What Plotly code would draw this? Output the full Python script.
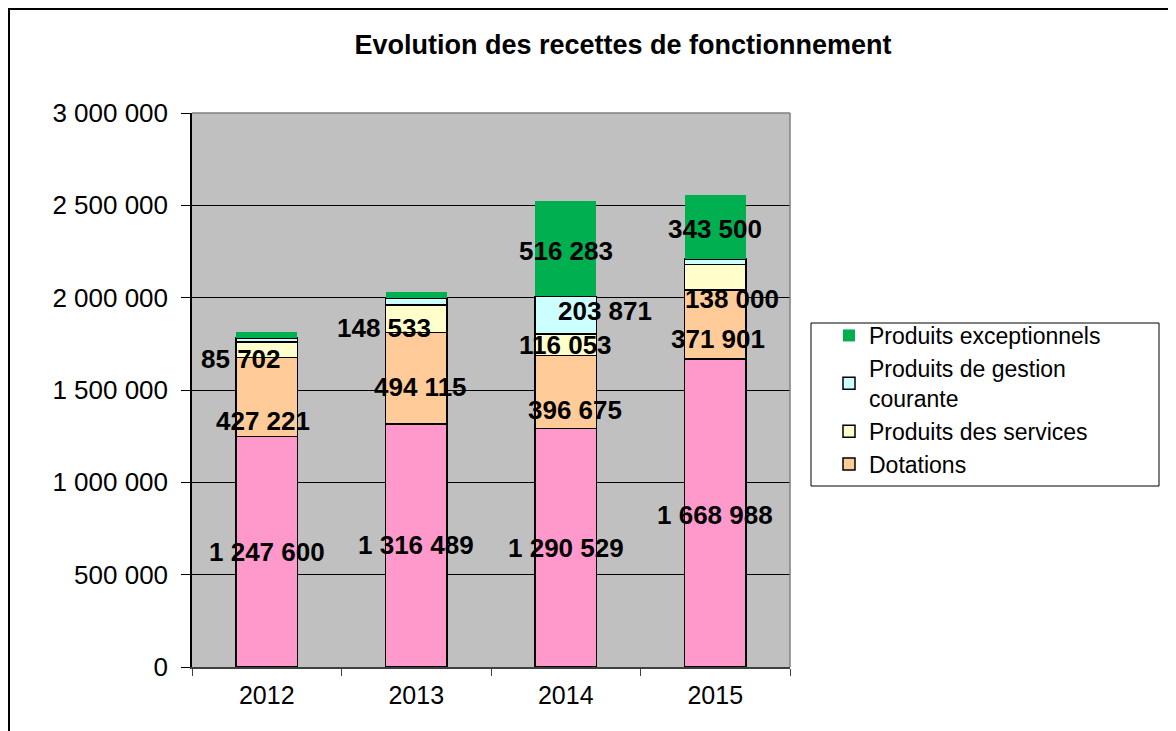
import plotly.graph_objects as go

# ---- data ----
years = ["2012", "2013", "2014", "2015"]
impots = [1247600, 1316489, 1290529, 1668988]
dotations = [427221, 494115, 396675, 371901]
services = [85702, 148533, 116053, 138000]
gestion = [22000, 38000, 203871, 31000]
exceptionnels = [32000, 32000, 516283, 343500]

series_names = ["Impôts et taxes", "Dotations", "Produits des services",
                "Produits de gestion<br>courante", "Produits exceptionnels"]
series_values = [impots, dotations, services, gestion, exceptionnels]
series_colors = ["#FF99CC", "#FFCC99", "#FFFFCC", "#CCFFFF", "#00B050"]
series_line = [1.5, 1.5, 1.5, 1.5, 0]
show_label = [
    [True, True, True, True],
    [True, True, True, True],
    [True, True, True, True],
    [False, False, True, False],
    [False, False, True, True],
]
# label pixel nudges (style)
label_dx = [
    [0, 0, 0, 0],
    [-4, 4, 9, 3],
    [-26, -32, 0, 17],
    [0, 0, 39, 0],
    [0, 0, 0, 0],
]
label_dy = [
    [0, 0, 0, -2],
    [-24, -9, -18, -15],
    [-9, -9, 0, -22],
    [0, 0, 4, 0],
    [0, 0, -2, -2],
]

def fmt(v):
    return f"{v:,}".replace(",", " ")

# page body has an 8px margin; plot area target (screen): x 192-790, y 113-667
OFF = 8
L, T, PW, PH = 192 - OFF, 113 - OFF, 598, 554
W, H = 1176, 731
PB = T + PH  # plot bottom in figure px

def px(xs):  # screen x -> paper
    return (xs - OFF - L) / PW

def py(ys):  # screen y -> paper
    return (PB - (ys - OFF)) / PH

fig = go.Figure()
n = len(series_names)
for i, (name, vals, col, lw) in enumerate(zip(series_names, series_values, series_colors, series_line)):
    fig.add_trace(go.Bar(
        x=years, y=vals, name=name,
        marker=dict(color=col, line=dict(color="black", width=lw)),
        showlegend=(i > 0),
        legendgroup=f"g{i}",
        legendrank=n - i,
        hoverinfo="skip",
    ))

annotations = []
base = [0] * len(years)
for s, vals in enumerate(series_values):
    for j, v in enumerate(vals):
        if show_label[s][j]:
            annotations.append(dict(
                x=j, y=base[j] + v / 2, xref="x", yref="y",
                text=f"<b>{fmt(v)}</b>", showarrow=False,
                xshift=label_dx[s][j], yshift=label_dy[s][j],
                font=dict(family="Liberation Sans, Arial", size=26, color="black"),
            ))
        base[j] += v

fig.update_layout(
    width=W, height=H,
    margin=dict(l=L, r=W - L - PW, t=T, b=H - T - PH, autoexpand=False),
    paper_bgcolor="white",
    plot_bgcolor="#C0C0C0",
    barmode="stack",
    bargap=0.59,
    separators=", ",
    font=dict(family="Liberation Sans, Arial", color="black"),
    title=dict(text="<b>Evolution des recettes de fonctionnement</b>",
               x=(623 - OFF) / W, xref="container", xanchor="center",
               y=1 - (45 - OFF) / H, yref="container", yanchor="middle",
               font=dict(size=27, family="Liberation Sans, Arial", color="black")),
    legend=dict(x=px(849 - 20), y=py(314), xanchor="left", yanchor="top",
                bgcolor="rgba(0,0,0,0)", borderwidth=0,
                traceorder="normal", tracegroupgap=11,
                font=dict(size=23, family="Liberation Sans, Arial", color="black")),
    annotations=annotations,
    shapes=[
        # outer chart frame
        dict(type="rect", xref="paper", yref="paper",
             x0=px(OFF + 1), x1=2.0, y0=-0.5, y1=py(OFF + 1),
             line=dict(color="black", width=2), layer="below"),
        # plot area right border
        dict(type="line", xref="paper", yref="paper", x0=1, x1=1, y0=0, y1=1,
             line=dict(color="#808080", width=1.5)),
        # plot area top border
        dict(type="line", xref="paper", yref="paper", x0=0, x1=1, y0=1, y1=1,
             line=dict(color="#808080", width=1.5)),
        # legend box
        dict(type="rect", xref="paper", yref="paper",
             x0=px(811), x1=px(1159), y0=py(486), y1=py(323),
             line=dict(color="black", width=1)),
    ],
)

fig.update_xaxes(
    type="category", automargin=False, range=[-0.5, len(years) - 0.5],
    showline=True, linecolor="#404040", linewidth=1.5, mirror=False,
    ticks="outside", tickson="boundaries", ticklen=7, tickcolor="#404040",
    tickfont=dict(size=25), showgrid=False, ticklabelstandoff=5, tickangle=0,
)
fig.update_yaxes(
    automargin=False,
    range=[0, 3000000], dtick=500000, tickformat=",d",
    showline=True, linecolor="black", linewidth=1.5,
    ticks="outside", ticklen=9, tickcolor="black",
    showgrid=True, gridcolor="black", gridwidth=1,
    zeroline=False, tickfont=dict(size=26), ticklabelstandoff=8,
)

fig.write_html("out.html")
